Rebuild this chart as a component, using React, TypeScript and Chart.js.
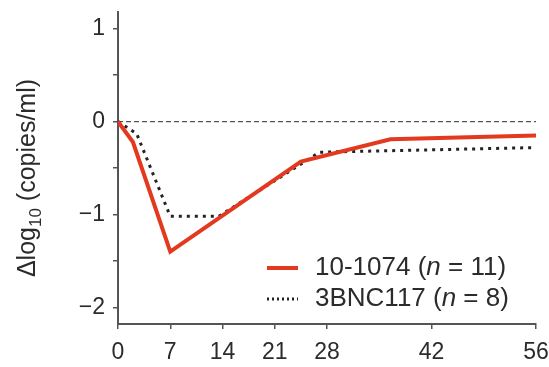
import React, { useEffect, useRef } from "react";
import { Chart, registerables } from "chart.js";

Chart.register(...registerables);

const xTickValues = [0, 7, 14, 21, 28, 42, 56];
const yTickValues = [-2, -1.5, -1, -0.5, 0, 0.5, 1];

const redDays = [0, 2, 7, 24.5, 36.5, 56];
const redValues = [0, -0.22, -1.4, -0.43, -0.19, -0.15];

const blackDays = [0, 2.5, 7, 13.5, 27, 56];
const blackValues = [0, -0.13, -1.02, -1.02, -0.33, -0.28];

const zeroDays = [0, 56];
const zeroValues = [0, 0];

const redLabel = ["10-1074 (", "n", " = 11)"];
const blackLabel = ["3BNC117 (", "n", " = 8)"];

const FONT = "'Liberation Sans', Arial, sans-serif";
const RED = "#e2391f";
const DARK = "#222222";
const AXIS = "#555555";
const TEXT = "#2b2b2b";

const overlayPlugin = {
  id: "overlay",
  afterDraw(chart: any) {
    const ctx = chart.ctx;
    const area = chart.chartArea;
    ctx.save();
    // Y axis title with subscript
    const size = 25;
    const sub = 17;
    ctx.fillStyle = TEXT;
    ctx.textBaseline = "alphabetic";
    const p1 = "\u0394log";
    const p2 = "10";
    const p3 = " (copies/ml)";
    ctx.font = `${size}px ${FONT}`;
    const w1 = ctx.measureText(p1).width;
    const w3 = ctx.measureText(p3).width;
    ctx.font = `${sub}px ${FONT}`;
    const w2 = ctx.measureText(p2).width;
    const total = w1 + w2 + w3;
    ctx.translate(35, 178);
    ctx.rotate(-Math.PI / 2);
    let x = -total / 2;
    ctx.font = `${size}px ${FONT}`;
    ctx.fillText(p1, x, 0);
    x += w1;
    ctx.font = `${sub}px ${FONT}`;
    ctx.fillText(p2, x, 6);
    x += w2;
    ctx.font = `${size}px ${FONT}`;
    ctx.fillText(p3, x, 0);
    ctx.restore();

    // Legend
    ctx.save();
    const rows = [
      { label: redLabel, color: RED, dash: [] as number[], width: 4, y: area.bottom - 56 },
      { label: blackLabel, color: DARK, dash: [2, 3], width: 3, y: area.bottom - 25 },
    ];
    const lsize = 26;
    for (const r of rows) {
      ctx.beginPath();
      ctx.strokeStyle = r.color;
      ctx.lineWidth = r.width;
      ctx.setLineDash(r.dash);
      ctx.moveTo(area.right - 269, r.y);
      ctx.lineTo(area.right - 238, r.y);
      ctx.stroke();
      ctx.setLineDash([]);
      ctx.fillStyle = TEXT;
      ctx.textBaseline = "middle";
      let tx = area.right - 221;
      r.label.forEach((part, i) => {
        ctx.font = i === 1 ? `italic ${lsize}px ${FONT}` : `${lsize}px ${FONT}`;
        ctx.fillText(part, tx, r.y);
        tx += ctx.measureText(part).width;
      });
    }
    ctx.restore();
  },
};

export default function App() {
  const ref = useRef<HTMLCanvasElement | null>(null);
  useEffect(() => {
    document.body.style.margin = "0";
    const canvas = ref.current;
    if (!canvas) return;
    const toPts = (xs: number[], ys: number[]) => xs.map((d, i) => ({ x: d, y: ys[i] }));
    const chart = new Chart(canvas, {
      type: "line",
      data: {
        datasets: [
          {
            data: toPts(zeroDays, zeroValues),
            borderColor: "#555555",
            borderWidth: 1.2,
            borderDash: [5, 3],
            pointRadius: 0,
            order: 3,
          },
          {
            data: toPts(blackDays, blackValues),
            borderColor: DARK,
            borderWidth: 3,
            borderDash: [3, 5],
            borderCapStyle: "butt",
            pointRadius: 0,
            order: 2,
          },
          {
            data: toPts(redDays, redValues),
            borderColor: RED,
            borderWidth: 4,
            pointRadius: 0,
            order: 1,
          },
        ],
      },
      options: {
        responsive: false,
        animation: false,
        layout: { padding: { top: 12, right: 13, left: 0, bottom: 0 } },
        plugins: { legend: { display: false }, tooltip: { enabled: false } },
        scales: {
          x: {
            type: "linear",
            min: 0,
            max: 56,
            afterBuildTicks: (s: any) => {
              s.ticks = xTickValues.map((v) => ({ value: v }));
            },
            afterFit: (s: any) => {
              s.height = 43;
              s.paddingLeft = 0;
              s.paddingRight = 0;
            },
            grid: { drawOnChartArea: false, drawTicks: true, tickLength: 5, color: AXIS, lineWidth: 1.5 },
            border: { display: true, color: AXIS, width: 2 },
            ticks: {
              color: TEXT,
              font: { family: FONT, size: 23 },
              padding: 10,
              maxRotation: 0,
              autoSkip: false,
              callback: (v: any) => String(v),
            },
          },
          y: {
            type: "linear",
            min: -2.18,
            max: 1.18,
            afterBuildTicks: (s: any) => {
              s.ticks = yTickValues.map((v) => ({ value: v }));
            },
            afterFit: (s: any) => {
              s.width = 118;
              s.paddingTop = 0;
              s.paddingBottom = 0;
            },
            grid: { drawOnChartArea: false, drawTicks: true, tickLength: 5, color: AXIS, lineWidth: 1.5 },
            border: { display: true, color: AXIS, width: 2 },
            ticks: {
              color: TEXT,
              font: { family: FONT, size: 23 },
              padding: 8,
              autoSkip: false,
              callback: (v: any) => {
                const n = Number(v);
                if (!Number.isInteger(n)) return "";
                return n < 0 ? "\u2212" + Math.abs(n) : String(n);
              },
            },
          },
        },
      },
      plugins: [overlayPlugin],
    } as any);
    return () => chart.destroy();
  }, []);
  return (
    <div style={{ width: 549, height: 367 }}>
      <canvas ref={ref} width={549} height={367} />
    </div>
  );
}
